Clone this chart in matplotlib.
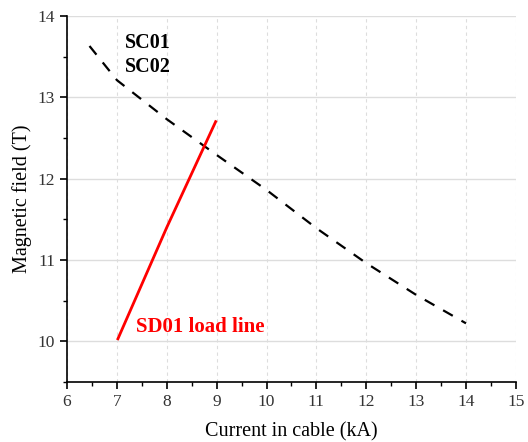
import matplotlib.pyplot as plt
from matplotlib.ticker import MultipleLocator

# short-sample critical curve (SC01 / SC02)
sc_current = [6.45, 7.0, 8.0, 9.0, 10.0, 11.0, 12.0, 13.0, 14.0]
sc_field = [13.63, 13.21, 12.73, 12.29, 11.86, 11.39, 10.96, 10.57, 10.22]

# SD01 load line
ll_current = [7.02, 8.0, 8.98]
ll_field = [10.03, 11.40, 12.70]

plt.rcParams["font.family"] = ["Liberation Serif", "DejaVu Serif"]

fig = plt.figure(figsize=(5.28, 4.42), dpi=100)
ax = fig.add_axes([0.127, 0.136, 0.850, 0.828])

ax.plot(sc_current, sc_field, color="black", linestyle=(0, (5, 4.5)), linewidth=1.6)
ax.plot(ll_current, ll_field, color="#ff0000", linewidth=2.0)

ax.text(7.17, 13.67, "SC01", fontsize=14.5, fontweight="bold", va="center")
ax.text(7.17, 13.37, "SC02", fontsize=14.5, fontweight="bold", va="center")
ax.text(7.38, 10.17, "SD01 load line", fontsize=15, fontweight="bold",
        color="#ff0000", va="center")

ax.set_xlim(6, 15)
ax.set_ylim(9.5, 14)
ax.xaxis.set_major_locator(MultipleLocator(1))
ax.xaxis.set_minor_locator(MultipleLocator(0.5))
ax.yaxis.set_major_locator(MultipleLocator(1))
ax.yaxis.set_minor_locator(MultipleLocator(0.5))

ax.grid(True, axis="x", which="major", color="#dddddd", linestyle=(0, (3, 3)), linewidth=0.8)
ax.grid(True, axis="y", which="major", color="#dddddd", linestyle="-", linewidth=1.0)
ax.set_axisbelow(True)

for side in ["top", "right"]:
    ax.spines[side].set_visible(False)
for side in ["left", "bottom"]:
    ax.spines[side].set_linewidth(1.2)

ax.tick_params(which="major", direction="out", length=5, width=1.2, labelsize=12.5, colors="black")
ax.tick_params(which="minor", direction="out", length=3, width=1.0)
ax.tick_params(axis="both", labelcolor="#333333")

ax.set_xlabel("Current in cable (kA)", fontsize=14.5, labelpad=9)
ax.set_ylabel("Magnetic field (T)", fontsize=14.5, labelpad=4)

plt.savefig("out.png", dpi=100)
plt.close()
